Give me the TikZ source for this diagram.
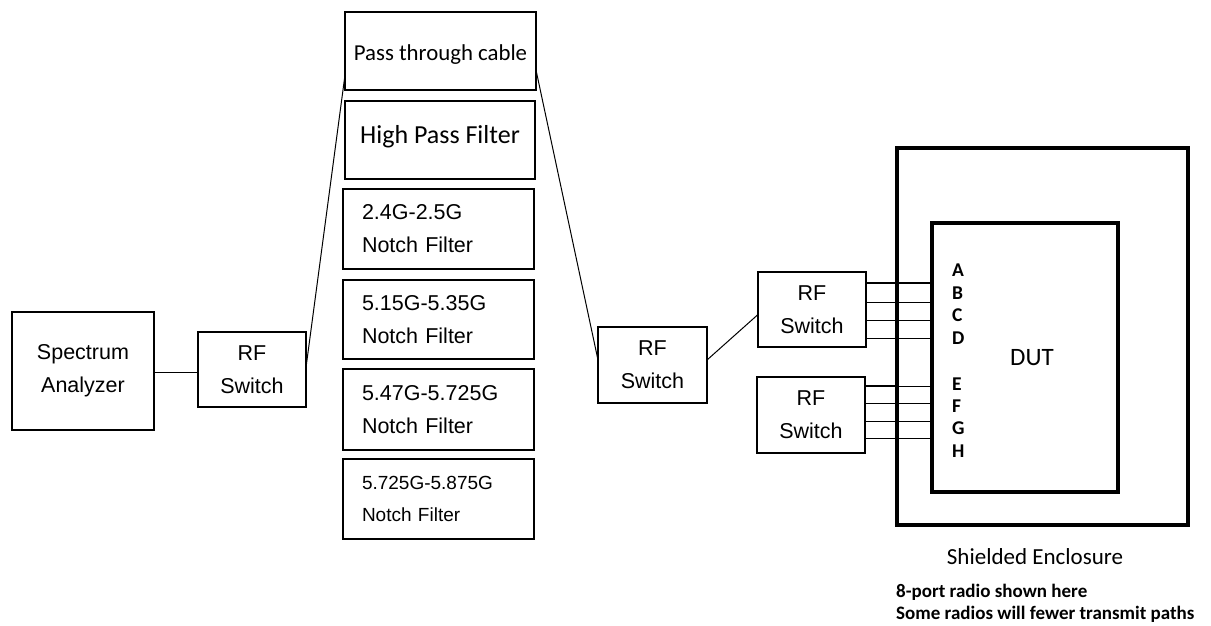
\documentclass[tikz,border=0pt]{standalone}
\usepackage{fontspec}
\setmainfont{Liberation Sans}
\newfontfamily\calfont{Carlito}
\usetikzlibrary{calc}
\tikzset{
  box/.style={draw, line width=2.5pt, inner sep=0pt, outer sep=0pt, align=center,
    font=\fontsize{21.5}{33}\selectfont},
  filt/.style={box, minimum width=191pt, text width=153pt, inner xsep=19pt, align=left},
  wire/.style={line width=1pt},
  port/.style={font=\calfont\bfseries\fontsize{19.5}{19.5}\selectfont, anchor=west, inner sep=0pt}
}
\begin{document}
\begin{tikzpicture}[x=1pt,y=-1pt]
\useasboundingbox (0,0) rectangle (1211,625);
% left chain
\node[box, minimum width=142pt, minimum height=118pt] (sa) at (83,371) {Spectrum\\Analyzer};
\node[box, minimum width=108pt, minimum height=75pt] (rf1) at (252,369.5) {RF\\Switch};
% filter bank
\node[box, minimum width=191pt, minimum height=78pt] (pass) at (440.5,51) {};
\node[font=\calfont\fontsize{22.8}{24}\selectfont, inner sep=0pt] (passtxt) at ([yshift=-4pt]pass.center) {Pass through cable};
\node[box, minimum width=190pt, minimum height=78pt] (hpf) at (440,140) {};
\node[font=\calfont\fontsize{26}{28}\selectfont, inner sep=0pt] (hpftxt) at ([yshift=3pt]hpf.center) {High Pass Filter};
\node[filt, minimum height=80pt] (f1) at (438.5,229) {2.4G-2.5G\\Notch Filter};
\node[filt, minimum height=79pt] (f2) at (438.5,319.5) {5.15G-5.35G\\Notch Filter};
\node[filt, minimum height=81pt] (f3) at (438.5,409.5) {5.47G-5.725G\\Notch Filter};
\node[filt, minimum height=80pt, font=\fontsize{19}{32}\selectfont] (f4) at (438.5,499) {5.725G-5.875G\\Notch Filter};
% right chain
\node[box, minimum width=109pt, minimum height=76pt] (rf2) at (652.5,365) {RF\\Switch};
\node[box, minimum width=108pt, minimum height=75pt] (rf3) at (812,309.5) {RF\\Switch};
\node[box, minimum width=108pt, minimum height=76pt] (rf4) at (811,415) {RF\\Switch};
% enclosure and DUT
\node[draw, line width=4pt, minimum width=291pt, minimum height=377pt, inner sep=0pt, outer sep=0pt] (encl) at (1042.5,336.5) {};
\node[draw, line width=3.5pt, minimum width=186pt, minimum height=269pt, inner sep=0pt, outer sep=0pt,
  font=\calfont\fontsize{25}{25}\selectfont] (dut) at (1025,357.5) {\hspace*{14pt}DUT};
% port labels
\foreach \l/\yy in {A/270,B/293,C/315,D/338,E/384,F/406,G/428,H/451}
  \node[port] (lab\l) at (952,\yy) {\l};
% port attachment points
\foreach \l/\yy in {A/283,B/302,C/320,D/338,E/386,F/403,G/421,H/438}
  \coordinate (p\l) at (dut.west |- 0,\yy);
% connectors
\draw[wire] ([yshift=-1pt]sa.east) -- ([yshift=-1pt]sa.east -| rf1.west);
\draw[wire] ([yshift=2pt]rf1.east) -- ([yshift=-24pt]pass.west);
\draw[wire] ([yshift=-19pt]pass.east) -- ([yshift=5pt]rf2.west);
\draw[wire] ([yshift=5pt]rf2.east) -- ([yshift=-5pt]rf3.west);
\draw[wire, line width=2pt] (rf3.east |- pA) -- (pA);
\foreach \l in {B,C,D} \draw[wire] (rf3.east |- p\l) -- (p\l);
\draw[wire, line width=2pt] (rf4.east |- pE) -- (encl.west |- pE);
\draw[wire] (encl.west |- pE) -- (pE);
\foreach \l in {F,G,H} \draw[wire] (rf4.east |- p\l) -- (p\l);
% captions
\node[font=\calfont\fontsize{23}{24}\selectfont] (cap) at (1035,557) {Shielded Enclosure};
\node[font=\calfont\bfseries\fontsize{19}{22}\selectfont, align=left, anchor=north west, inner sep=0pt] (note) at (896,584) {8-port radio shown here\\Some radios will fewer transmit paths};
\end{tikzpicture}
\end{document}
